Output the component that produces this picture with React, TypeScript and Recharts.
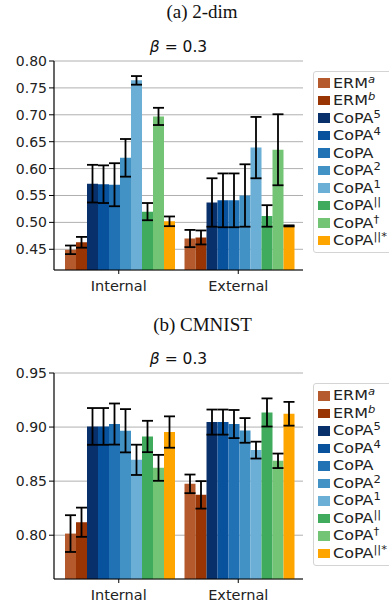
import React from 'react';
import { BarChart, Bar, XAxis, YAxis, CartesianGrid, ErrorBar } from 'recharts';

const categories = ['Internal', 'External'];
const seriesNames = ['ERM', 'ERM', 'CoPA', 'CoPA', 'CoPA', 'CoPA', 'CoPA', 'CoPA', 'CoPA', 'CoPA'];
const seriesSups = ['a', 'b', '5', '4', '', '2', '1', '||', '†', '||*'];
const seriesColors = ['#b55a2d', '#993404', '#08306b', '#08519c', '#2171b5', '#4292c6', '#6baed6', '#41ab5d', '#74c476', '#ffa500'];

// (a) 2-dim
const dimTicks = [0.45, 0.5, 0.55, 0.6, 0.65, 0.7, 0.75, 0.8];
const dimInternal = [0.449, 0.463, 0.572, 0.571, 0.570, 0.620, 0.764, 0.520, 0.697, 0.502];
const dimInternalErr = [0.008, 0.010, 0.035, 0.035, 0.040, 0.035, 0.008, 0.016, 0.016, 0.009];
const dimExternal = [0.470, 0.472, 0.537, 0.541, 0.541, 0.550, 0.639, 0.512, 0.635, 0.4935];
const dimExternalErr = [0.016, 0.013, 0.045, 0.050, 0.050, 0.058, 0.057, 0.020, 0.066, 0.001];

// (b) CMNIST
const cmnistTicks = [0.8, 0.85, 0.9, 0.95];
const cmnistInternal = [0.8015, 0.812, 0.9006, 0.9006, 0.9028, 0.8966, 0.8697, 0.8913, 0.8623, 0.8954];
const cmnistInternalErr = [0.017, 0.0135, 0.017, 0.017, 0.019, 0.020, 0.014, 0.0145, 0.012, 0.0145];
const cmnistExternal = [0.8475, 0.8373, 0.9046, 0.9046, 0.9028, 0.8969, 0.8787, 0.9135, 0.8688, 0.9123];
const cmnistExternalErr = [0.0086, 0.0127, 0.0116, 0.0116, 0.013, 0.0114, 0.0078, 0.013, 0.0067, 0.011];

const FONT = '"DejaVu Sans", sans-serif';

function buildRows(means: number[][], errs: number[][]) {
  return categories.map((c, ci) => {
    const row: any = { category: c };
    seriesNames.forEach((_, si) => {
      row['s' + si] = means[ci][si];
      row['e' + si] = errs[ci][si];
    });
    return row;
  });
}

const dimRows = buildRows([dimInternal, dimExternal], [dimInternalErr, dimExternalErr]);
const cmnistRows = buildRows([cmnistInternal, cmnistExternal], [cmnistInternalErr, cmnistExternalErr]);

function Panel({ rows, ticks, domain, top, height, marginTop }: any) {
  return (
    <div style={{ position: 'absolute', left: 0, top, width: 389, height }}>
      <BarChart
        width={389}
        height={height}
        data={rows}
        margin={{ top: marginTop, left: 0, right: 86, bottom: 0 }}
        barCategoryGap={6}
        barGap={0}
      >
        <CartesianGrid vertical={false} stroke="#b0b0b0" strokeWidth={1} />
        <XAxis
          dataKey="category"
          height={30}
          padding={{ left: 5, right: 5 }}
          axisLine={{ stroke: '#000', strokeWidth: 1.2 }}
          tickLine={{ stroke: '#000' }}
          tickSize={4}
          tickMargin={7}
          tick={{ fill: '#222', fontSize: 14.5, fontFamily: FONT }}
        />
        <XAxis
          xAxisId="top"
          orientation="top"
          dataKey="category"
          height={0}
          tick={false}
          tickLine={false}
          axisLine={{ stroke: '#000', strokeWidth: 1.2 }}
        />
        <YAxis
          type="number"
          domain={domain}
          allowDataOverflow
          ticks={ticks}
          width={54}
          axisLine={{ stroke: '#000', strokeWidth: 1.2 }}
          tickLine={{ stroke: '#000' }}
          tickSize={5}
          tickMargin={2}
          tickFormatter={(v: number) => v.toFixed(2)}
          tick={{ fill: '#222', fontSize: 14, fontFamily: FONT }}
        />
        <YAxis
          yAxisId="right"
          orientation="right"
          type="number"
          domain={domain}
          allowDataOverflow
          width={0}
          tick={false}
          tickLine={false}
          axisLine={{ stroke: '#000', strokeWidth: 1.2 }}
        />
        {seriesNames.map((_, i) => (
          <Bar key={i} dataKey={'s' + i} fill={seriesColors[i]} isAnimationActive={false}>
            <ErrorBar dataKey={'e' + i} width={5.5} stroke="#000" strokeWidth={1.8} direction="y" isAnimationActive={false} />
          </Bar>
        ))}
      </BarChart>
    </div>
  );
}

function LegendBox({ left, top }: { left: number; top: number }) {
  return (
    <div
      style={{
        position: 'absolute',
        left,
        top,
        width: 100,
        height: 182.6,
        border: '1px solid #d4d4d4',
        borderRadius: 3,
        background: '#fff',
        boxSizing: 'border-box',
        fontFamily: FONT,
        fontSize: 14.5,
        color: '#222',
        paddingTop: 2.8,
      }}
    >
      {seriesNames.map((n, i) => (
        <div key={i} style={{ height: 17.5, display: 'flex', alignItems: 'center', paddingLeft: 4, whiteSpace: 'nowrap' }}>
          <span style={{ display: 'inline-block', width: 12, height: 9.5, background: seriesColors[i], marginRight: 2.5 }} />
          <span
            style={{
              display: 'inline-block',
              lineHeight: '15px',
              transform: 'scaleX(1.1)',
              transformOrigin: 'left center',
            }}
          >
            {n}
            {seriesSups[i] ? (
              <span style={{ fontSize: 10.5, position: 'relative', top: -5, lineHeight: '10px', fontStyle: i < 2 ? 'italic' : 'normal' }}>
                {seriesSups[i]}
              </span>
            ) : null}
          </span>
        </div>
      ))}
    </div>
  );
}

export default function App() {
  return (
    <div style={{ position: 'absolute', left: 0, top: 0, width: 389, height: 609, background: '#fff', overflow: 'hidden' }}>
      <Panel rows={dimRows} ticks={dimTicks} domain={[0.4115, 0.8]} top={0} height={300} marginTop={61} />
      <Panel rows={cmnistRows} ticks={cmnistTicks} domain={[0.7595, 0.95]} top={300} height={309} marginTop={73} />
      <svg width={389} height={609} style={{ position: 'absolute', left: 0, top: 0, pointerEvents: 'none' }}>
        <text x={202} y={18} textAnchor="middle" fontFamily='"Liberation Serif", serif' fontSize={19} fill="#111">(a) 2-dim</text>
        <text x={178.5} y={51.7} textAnchor="middle" fontFamily={FONT} fontSize={15.5} fill="#111">
          <tspan fontStyle="italic">β</tspan> = 0.3
        </text>
        <text x={202.5} y={331} textAnchor="middle" fontFamily='"Liberation Serif", serif' fontSize={19} fill="#111">(b) CMNIST</text>
        <text x={178.5} y={364.3} textAnchor="middle" fontFamily={FONT} fontSize={15.5} fill="#111">
          <tspan fontStyle="italic">β</tspan> = 0.3
        </text>
      </svg>
      <LegendBox left={313} top={70.5} />
      <LegendBox left={313} top={383.3} />
    </div>
  );
}
